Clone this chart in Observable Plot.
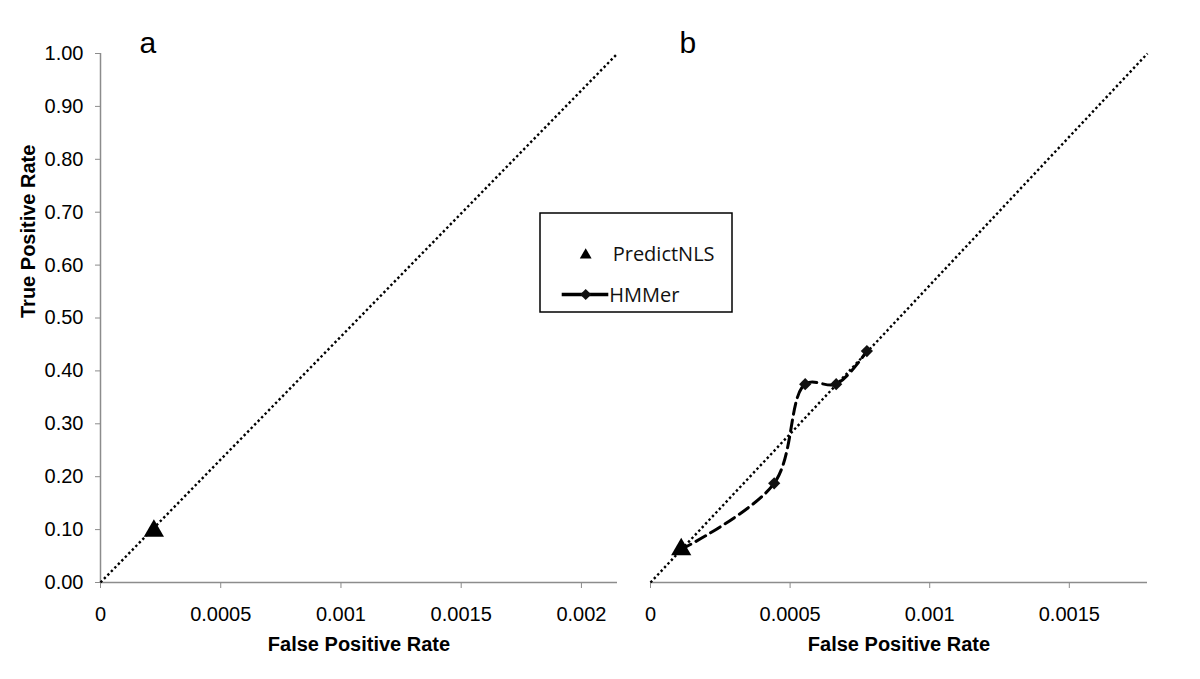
<!DOCTYPE html>
<html><head><meta charset="utf-8">
<script src="https://cdn.jsdelivr.net/npm/d3@7"></script>
<script src="https://cdn.jsdelivr.net/npm/@observablehq/plot@0.6"></script>
<style>
html,body{margin:0;padding:0;background:#fff;}
#wrap{position:relative;width:1200px;height:679px;overflow:hidden;font-family:"Liberation Sans",Arial,sans-serif;}
#wrap > svg{position:absolute;top:0;}
</style></head><body><div id="wrap"></div>
<script>
// ---- data ----
const seriesNames = ["PredictNLS", "HMMer"];
const panelNames = ["a", "b"];
const predictA_fpr = [0.000222];
const predictA_tpr = [0.0975];
const predictB_fpr = [0.00011];
const predictB_tpr = [0.0625];
const hmmer_fpr = [0.00011, 0.000443, 0.000554, 0.000665, 0.000775];
const hmmer_tpr = [0.0625, 0.1875, 0.375, 0.375, 0.4375];
const xMaxA = 0.00215;
const xMaxB = 0.00178;
const xTicksA = [0, 0.0005, 0.001, 0.0015, 0.002];
const xTickLabelsA = ["0", "0.0005", "0.001", "0.0015", "0.002"];
const xTicksB = [0, 0.0005, 0.001, 0.0015];
const xTickLabelsB = ["0", "0.0005", "0.001", "0.0015"];
const yTicks = [0, 0.1, 0.2, 0.3, 0.4, 0.5, 0.6, 0.7, 0.8, 0.9, 1.0];
const yTickLabels = ["0.00","0.10","0.20","0.30","0.40","0.50","0.60","0.70","0.80","0.90","1.00"];
const xLabel = "False Positive Rate";
const yLabel = "True Positive Rate";

const predA = predictA_fpr.map((x, i) => ({x, y: predictA_tpr[i]}));
const predB = predictB_fpr.map((x, i) => ({x, y: predictB_tpr[i]}));
const hmmer = hmmer_fpr.map((x, i) => ({x, y: hmmer_tpr[i]}));
const diagA = [{x: 0, y: 0}, {x: xMaxA, y: 1}];
const diagB = [{x: 0, y: 0}, {x: xMaxB, y: 1}];

const FONT = "Liberation Sans, Arial, Helvetica, sans-serif";
const AX = "#8c8c8c";
const DOT = {stroke: "#000", strokeWidth: 2.4, strokeDasharray: "2.4,2.6", strokeLinecap: "butt"};
const wrap = document.getElementById("wrap");

const plotA = Plot.plot({
  width: 640, height: 679,
  marginLeft: 100, marginRight: 23, marginTop: 53, marginBottom: 97,
  x: {domain: [0, xMaxA]},
  y: {domain: [0, 1]},
  style: {fontFamily: FONT, fontSize: "20px", color: "#000", background: "transparent", overflow: "visible"},
  marks: [
    Plot.axisY({ticks: yTicks, tickFormat: (d, i) => yTickLabels[i], tickSize: 5, tickPadding: 12, stroke: AX, label: null, fontSize: 20}),
    Plot.axisX({ticks: xTicksA, tickFormat: (d, i) => xTickLabelsA[i], tickSize: 6, tickPadding: 18, stroke: AX, label: null, fontSize: 20}),
    Plot.ruleX([0], {stroke: AX, strokeWidth: 1.5}),
    Plot.ruleY([0], {stroke: AX, strokeWidth: 1.5}),
    Plot.text([yLabel], {frameAnchor: "left", rotate: -90, dx: -72, fontWeight: "bold", fontSize: 20}),
    Plot.text([xLabel], {frameAnchor: "bottom", dy: 68, fontWeight: "bold", fontSize: 20}),
    Plot.text([panelNames[0]], {frameAnchor: "top-left", dx: 39, dy: -22, fontSize: 30}),
    Plot.line(diagA, {x: "x", y: "y", ...DOT}),
    Plot.dot(predA, {x: "x", y: "y", symbol: "triangle", r: 7.5, fill: "#000", stroke: "none"})
  ]
});
plotA.style.left = "0px";
wrap.appendChild(plotA);

const plotB = Plot.plot({
  width: 560, height: 679,
  marginLeft: 10, marginRight: 53, marginTop: 53, marginBottom: 97,
  x: {domain: [0, xMaxB]},
  y: {domain: [0, 1], axis: null},
  style: {fontFamily: FONT, fontSize: "20px", color: "#000", background: "transparent", overflow: "visible"},
  marks: [
    Plot.axisX({ticks: xTicksB, tickFormat: (d, i) => xTickLabelsB[i], tickSize: 6, tickPadding: 18, stroke: AX, label: null, fontSize: 20}),
    Plot.ruleY([0], {stroke: AX, strokeWidth: 1.5}),
    Plot.text([xLabel], {frameAnchor: "bottom", dy: 68, fontWeight: "bold", fontSize: 20}),
    Plot.text([panelNames[1]], {frameAnchor: "top-left", dx: 29, dy: -22, fontSize: 30}),
    Plot.line(diagB, {x: "x", y: "y", ...DOT}),
    Plot.line(hmmer, {x: "x", y: "y", curve: "catmull-rom", stroke: "#000", strokeWidth: 3, strokeDasharray: "11,6"}),
    Plot.dot(hmmer.slice(1), {x: "x", y: "y", symbol: "diamond2", r: 5.5, fill: "#111", stroke: "none"}),
    Plot.dot(predB, {x: "x", y: "y", symbol: "triangle", r: 7.5, fill: "#000", stroke: "none"})
  ]
});
plotB.style.left = "640px";
wrap.appendChild(plotB);

// ---- legend ----
const lg = d3.select(wrap).append("svg")
  .attr("width", 196).attr("height", 104)
  .style("position", "absolute").style("left", "538px").style("top", "211px");
lg.append("rect").attr("x", 2).attr("y", 2).attr("width", 192).attr("height", 99)
  .attr("fill", "#fff").attr("stroke", "#000").attr("stroke-width", 1.5);
lg.append("path").attr("d", d3.symbol(d3.symbolTriangle, 60)()).attr("transform", "translate(47.7,44)").attr("fill", "#000");
lg.append("text").attr("x", 74.7).attr("y", 43).attr("dy", "0.35em")
  .style("font-family", "Open Sans, Lato, sans-serif").style("font-size", "20px").attr("fill", "#111").text(seriesNames[0]);
lg.append("line").attr("x1", 23.7).attr("x2", 70.3).attr("y1", 83.5).attr("y2", 83.5).attr("stroke", "#000").attr("stroke-width", 3.5);
lg.append("path").attr("d", d3.symbol(d3.symbolDiamond2, 80)()).attr("transform", "translate(47.7,83.5)").attr("fill", "#111");
lg.append("text").attr("x", 71.3).attr("y", 83.5).attr("dy", "0.35em")
  .style("font-family", "Open Sans, Lato, sans-serif").style("font-size", "20px").attr("fill", "#111").text(seriesNames[1]);
</script>
</body></html>
